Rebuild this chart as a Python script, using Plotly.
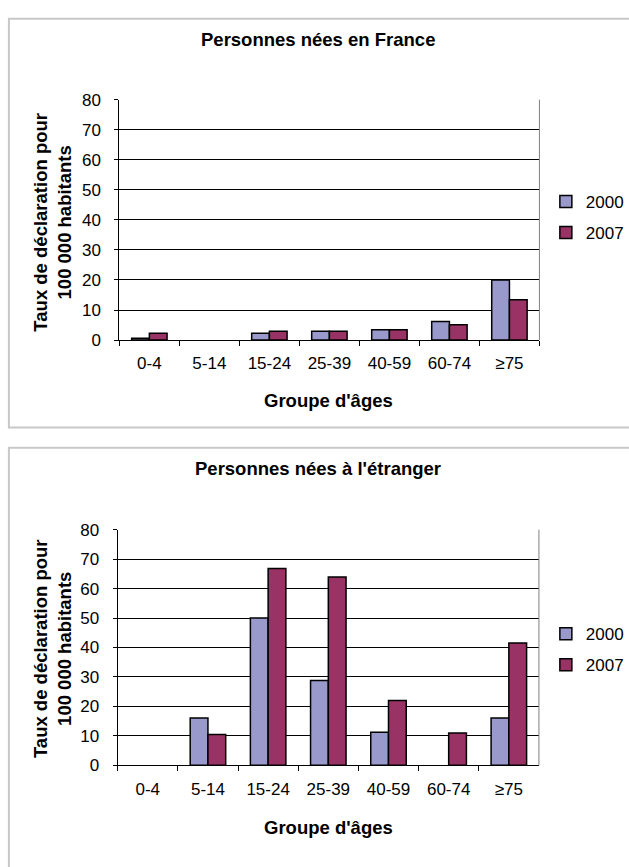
import plotly.graph_objects as go

# Age groups and notification rates per 100 000 inhabitants
age_groups = ["0-4", "5-14", "15-24", "25-39", "40-59", "60-74", "≥75"]
years = ["2000", "2007"]

born_france_2000 = [0.6, 0, 2.3, 2.9, 3.4, 6.2, 20.0]
born_france_2007 = [2.3, 0, 2.9, 2.9, 3.4, 5.1, 13.4]

born_abroad_2000 = [0, 16.1, 50.0, 28.8, 11.2, 0, 16.1]
born_abroad_2007 = [0, 10.5, 66.8, 63.9, 22.0, 11.0, 41.5]

panel_titles = ["Personnes nées en France", "Personnes nées à l'étranger"]
x_title = "Groupe d'âges"
y_title_lines = ["Taux de déclaration pour", "100 000 habitants"]

colors = {"2000": "#9999CC", "2007": "#993366"}
FONT = "Liberation Sans, Arial, sans-serif"

W, H = 629, 867


def px_x(v):
    return v / W


def px_y(v):
    return (H - v) / H


fig = go.Figure()

series = [
    ("x", "y", "legend", born_france_2000, born_france_2007),
    ("x2", "y2", "legend2", born_abroad_2000, born_abroad_2007),
]
for xa, ya, lg, v2000, v2007 in series:
    for yr, vals in zip(years, [v2000, v2007]):
        # zero rates are left empty so no outline is drawn on the axis
        shown = [v if v > 0 else None for v in vals]
        fig.add_trace(go.Bar(
            x=age_groups, y=shown, name=yr,
            xaxis=xa, yaxis=ya, legend=lg, legendgroup=yr,
            marker=dict(color=colors[yr], line=dict(color="black", width=1.5)),
        ))

axis_font = dict(family=FONT, size=17, color="black")
xcommon = dict(
    type="category", categoryorder="array", categoryarray=age_groups,
    showline=True, linecolor="black", linewidth=1,
    ticks="outside", tickson="boundaries", ticklen=5, tickcolor="black",
    tickfont=axis_font, ticklabelstandoff=8, showgrid=False, fixedrange=True,
)
ycommon = dict(
    range=[0, 80], dtick=10, showline=True, linecolor="black", linewidth=1,
    ticks="outside", ticklen=4, tickcolor="black", tickfont=axis_font,
    showgrid=True, gridcolor="black", gridwidth=1, zeroline=False,
    ticklabelstandoff=10, fixedrange=True,
)

# Plot areas (in pixels): left, right, top, bottom
plot1 = (120.7, 545.5, 92.7, 338.5)
plot2 = (119.0, 545.0, 532.3, 773.3)

legend_font = dict(family=FONT, size=17, color="black")
fig.update_layout(
    width=W, height=H, autosize=False,
    margin=dict(l=0, r=0, t=0, b=0),
    paper_bgcolor="white", plot_bgcolor="white",
    barmode="group", bargap=0.41, bargroupgap=0,
    font=dict(family=FONT, color="black"),
    xaxis=dict(domain=[px_x(plot1[0]), px_x(plot1[1])], anchor="y", **xcommon),
    yaxis=dict(domain=[px_y(plot1[3]), px_y(plot1[2])], anchor="x", **ycommon),
    xaxis2=dict(domain=[px_x(plot2[0]), px_x(plot2[1])], anchor="y2", **xcommon),
    yaxis2=dict(domain=[px_y(plot2[3]), px_y(plot2[2])], anchor="x2", **ycommon),
    legend=dict(x=px_x(552), xanchor="left", y=px_y(213),
                yanchor="middle", font=legend_font,
                tracegroupgap=6, bgcolor="rgba(0,0,0,0)"),
    legend2=dict(x=px_x(552), xanchor="left", y=px_y(655),
                 yanchor="middle", font=legend_font,
                 tracegroupgap=6, bgcolor="rgba(0,0,0,0)"),
    showlegend=True,
)

# Panel frames and right edge of each plot area
shapes = [
    dict(type="rect", xref="paper", yref="paper",
         x0=px_x(9), x1=px_x(660), y0=px_y(428), y1=px_y(10),
         line=dict(color="#c8c8c8", width=2), fillcolor="rgba(0,0,0,0)", layer="below"),
    dict(type="rect", xref="paper", yref="paper",
         x0=px_x(9), x1=px_x(660), y0=px_y(900), y1=px_y(448.5),
         line=dict(color="#c8c8c8", width=2), fillcolor="rgba(0,0,0,0)", layer="below"),
]
for xa, ya in [("x", "y"), ("x2", "y2")]:
    shapes.append(dict(type="line", xref=f"{xa} domain", yref=f"{ya} domain",
                       x0=1, x1=1, y0=0, y1=1, line=dict(color="#808080", width=1)))
fig.update_layout(shapes=shapes)

annotations = []
panels = [
    (panel_titles[0], 31, 400, 218),
    (panel_titles[1], 470, 837, 654),
]
y_title = "<br>".join(f"<b>{line}</b>" for line in y_title_lines)
for title, ty, xty, yty in panels:
    annotations.append(dict(text=f"<b>{title}</b>", xref="paper", yref="paper",
                            x=px_x(321.5), y=px_y(ty), xanchor="center", yanchor="middle",
                            showarrow=False, font=dict(family=FONT, size=18.5, color="black")))
    annotations.append(dict(text=f"<b>{x_title}</b>", xref="paper", yref="paper",
                            x=px_x(332), y=px_y(xty), xanchor="center", yanchor="middle",
                            showarrow=False, font=dict(family=FONT, size=18.5, color="black")))
    annotations.append(dict(text=y_title,
                            xref="paper", yref="paper",
                            x=px_x(53), y=px_y(yty), xanchor="center", yanchor="middle",
                            textangle=-90, showarrow=False,
                            font=dict(family=FONT, size=18.5, color="black")))
fig.update_layout(annotations=annotations)

fig.write_html("out.html")
